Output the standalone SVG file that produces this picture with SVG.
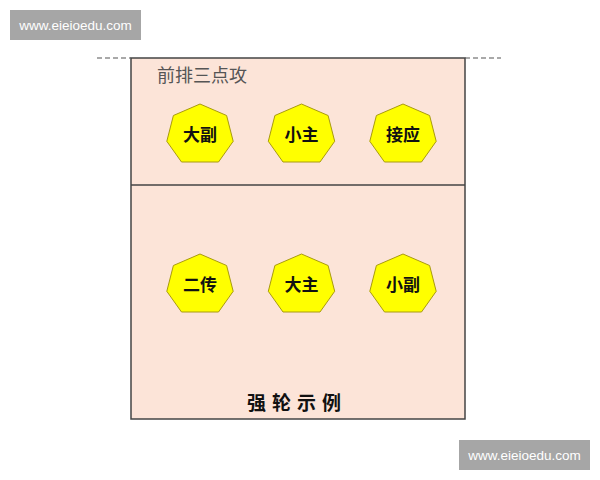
<svg xmlns="http://www.w3.org/2000/svg" width="600" height="480" viewBox="0 0 600 480">
<style>
.wm{fill:#a6a6a6}
.wmt{font-family:"Liberation Sans",Arial,sans-serif;font-size:13.5px;fill:#ffffff}
.hep{fill:#ffff00;stroke:#a89a10;stroke-width:1}
.lbl{font-family:"Noto Sans CJK SC","Noto Sans",sans-serif;font-size:17px;font-weight:bold;fill:#111;text-anchor:middle}
.court{fill:#fce4d8;stroke:#444;stroke-width:1.5}
.dash{stroke:#555;stroke-width:1.2;stroke-dasharray:5,3;fill:none}
</style>
<defs>
<polygon id="h" points="0,-30.5 26.6,-19 33.2,6.8 18.5,27.5 -18.5,27.5 -33.2,6.8 -26.6,-19"/>
</defs>
<rect width="600" height="480" fill="#ffffff"/>
<g id="watermark-top"><rect class="wm" x="10" y="10" width="131" height="30"/><text class="wmt" x="75.5" y="30" text-anchor="middle">www.eieioedu.com</text></g>
<g id="watermark-bottom"><rect class="wm" x="459" y="440" width="131" height="30"/><text class="wmt" x="524.5" y="460" text-anchor="middle">www.eieioedu.com</text></g>
<g id="court">
<rect class="court" x="131" y="58" width="334" height="361"/>
<line x1="131" y1="185" x2="465" y2="185" stroke="#444" stroke-width="1.5"/>
<path class="dash" d="M97,58H131M465,58H501"/>
<text x="157" y="82" font-family="'Noto Sans CJK SC','Noto Sans',sans-serif" font-size="18" fill="#555">前排三点攻</text>
<text x="297" y="410" font-family="'Noto Sans CJK SC','Noto Sans',sans-serif" font-size="19" font-weight="bold" fill="#111" text-anchor="middle" letter-spacing="6">强轮示例</text>
</g>
<g id="node-dafu"><use href="#h" class="hep" x="200" y="134.5"/><text class="lbl" x="200" y="140.5">大副</text></g>
<g id="node-xiaozhu"><use href="#h" class="hep" x="301.5" y="134.5"/><text class="lbl" x="301.5" y="140.5">小主</text></g>
<g id="node-jieying"><use href="#h" class="hep" x="403" y="134.5"/><text class="lbl" x="403" y="140.5">接应</text></g>
<g id="node-erchuan"><use href="#h" class="hep" x="200" y="284.5"/><text class="lbl" x="200" y="290.5">二传</text></g>
<g id="node-dazhu"><use href="#h" class="hep" x="301.5" y="284.5"/><text class="lbl" x="301.5" y="290.5">大主</text></g>
<g id="node-xiaofu"><use href="#h" class="hep" x="403" y="284.5"/><text class="lbl" x="403" y="290.5">小副</text></g>
<g id="connectors"></g>
</svg>
